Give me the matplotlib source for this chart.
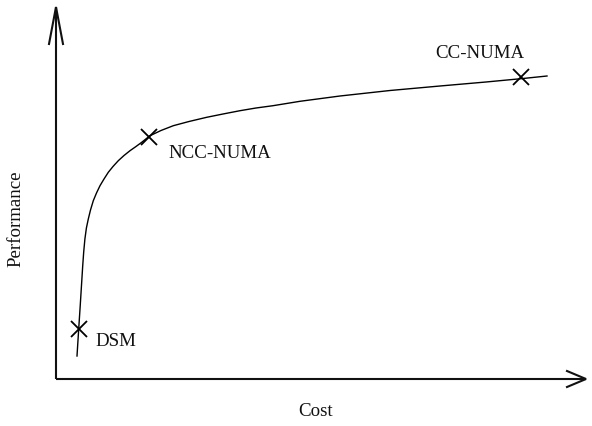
import matplotlib
matplotlib.use("Agg")
import matplotlib.pyplot as plt

plt.rcParams['font.family'] = ['Liberation Serif', 'DejaVu Serif']

# Curve (cost, performance), arbitrary units
curve_cost = [21.0, 22.7, 24.2, 25.7, 26.7, 27.7, 28.9, 30.4, 32.3, 34.5,
              37.3, 40.5, 44.0, 48.0, 52.3, 57.0, 62.3, 68.0, 74.0, 80.0,
              85.7, 94.0, 105.0, 117.3, 133.0, 150.7, 167.0, 184.0, 200.0, 217.0,
              244.0, 284.0, 334.0, 384.0, 430.0, 467.0, 491.0]
curve_perf = [23.0, 50.0, 73.0, 97.0, 113.0, 127.0, 140.0, 151.0, 160.0, 169.0,
              178.3, 186.0, 193.3, 200.0, 206.7, 212.5, 218.3, 223.5, 228.3, 232.5,
              236.7, 243.3, 248.5, 253.3, 257.5, 261.7, 265.0, 268.3, 271.0, 273.3,
              277.7, 283.0, 288.5, 293.0, 297.0, 300.5, 303.0]

# Systems (marked points)
systems = ["DSM", "NCC-NUMA", "CC-NUMA"]
sys_cost = [23.3, 92.5, 465.0]
sys_perf = [50.0, 242.0, 302.0]

x_label = "Cost"
y_label = "Performance"

fig = plt.figure(figsize=(5.92, 4.27), dpi=100)
ax = fig.add_axes([0, 0, 1, 1])
ax.set_xlim(-56, 536)
ax.set_ylim(-47, 380)
ax.axis('off')

# axes with open arrowheads
axcol = '#111111'
ax.plot([0, 530], [0, 0], color=axcol, lw=1.5, solid_capstyle='butt')
ax.plot([0, 0], [0, 372], color=axcol, lw=1.5, solid_capstyle='butt')
ax.plot([511, 530, 511], [8, 0, -8], color=axcol, lw=1.5, solid_joinstyle='miter')
ax.plot([-7, 0, 7], [335, 372, 335], color=axcol, lw=1.5, solid_joinstyle='miter')

ax.plot(curve_cost, curve_perf, color='black', lw=1.0, solid_joinstyle='round')
ax.plot(sys_cost, sys_perf, linestyle='none', marker='x', markersize=12,
        markeredgewidth=1.3, color='black')

offsets = {"DSM": (16, -12), "NCC-NUMA": (20, -15), "CC-NUMA": (-86, 25)}
for name, cx, py in zip(systems, sys_cost, sys_perf):
    dx, dy = offsets[name]
    ax.text(cx + dx, py + dy, name, fontsize=13.6, ha='left', va='center', color='#111111')

ax.text(260, -32, x_label, fontsize=13.6, ha='center', va='center', color='#111111')
ax.text(-40, 161, y_label, fontsize=13.6, ha='center', va='center', rotation=90, color='#111111')

fig.savefig("out.png", dpi=100)
